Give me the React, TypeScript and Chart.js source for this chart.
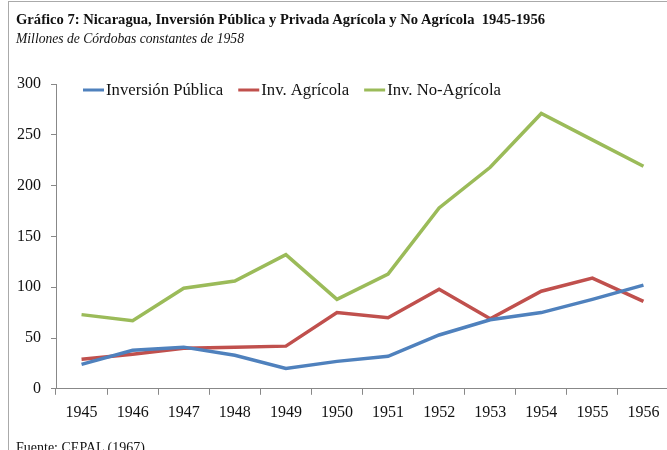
import React, { useEffect, useRef } from "react";
import { Chart, registerables } from "chart.js";

Chart.register(...registerables);

const years = ["1945", "1946", "1947", "1948", "1949", "1950", "1951", "1952", "1953", "1954", "1955", "1956"];
const inversionPublica = [24, 38, 41, 33, 20, 27, 32, 53, 68, 75, 88, 102];
const invAgricola = [29, 34, 40, 41, 42, 75, 70, 98, 69, 96, 109, 86];
const invNoAgricola = [73, 67, 99, 106, 132, 88, 113, 178, 218, 271, 245, 219];
const yTicks = [0, 50, 100, 150, 200, 250, 300];

const FONT = "'Liberation Serif', 'Times New Roman', serif";

const legendPlugin = {
  id: "lineLegend",
  afterDraw(chart: any) {
    const ctx = chart.ctx;
    const area = chart.chartArea;
    let x = area.left + 27;
    const y = area.top + 6;
    ctx.save();
    ctx.font = `16.7px ${FONT}`;
    ctx.textBaseline = "middle";
    chart.data.datasets.forEach((ds: any) => {
      ctx.strokeStyle = ds.borderColor;
      ctx.lineWidth = 3;
      ctx.beginPath();
      ctx.moveTo(x, y);
      ctx.lineTo(x + 21, y);
      ctx.stroke();
      x += 23;
      ctx.fillStyle = "#111";
      ctx.fillText(ds.label, x, y + 1);
      x += ctx.measureText(ds.label).width + 15;
    });
    ctx.restore();
  },
};

export default function App() {
  const ref = useRef<HTMLCanvasElement>(null);
  useEffect(() => {
    if (!ref.current) return;
    const chart = new Chart(ref.current, {
      type: "line",
      data: {
        labels: years,
        datasets: [
          { label: "Inversión Pública", data: inversionPublica, borderColor: "#4F81BD", backgroundColor: "#4F81BD" },
          { label: "Inv. Agrícola", data: invAgricola, borderColor: "#C0504D", backgroundColor: "#C0504D" },
          { label: "Inv. No-Agrícola", data: invNoAgricola, borderColor: "#9BBB59", backgroundColor: "#9BBB59" },
        ].map((d) => ({ ...d, borderWidth: 3.5, pointRadius: 0, tension: 0, fill: false })),
      },
      options: {
        responsive: false,
        animation: false,
        layout: { padding: { left: 7, top: 84, right: 0, bottom: 20 } },
        plugins: { legend: { display: false }, tooltip: { enabled: false } },
        scales: {
          x: {
            offset: true,
            grid: { offset: true, drawOnChartArea: false, tickLength: 6, color: "#888" },
            border: { color: "#888" },
            ticks: { font: { family: FONT, size: 16 }, color: "#111", padding: 8, maxRotation: 0 },
          },
          y: {
            min: 0,
            max: 300,
            afterBuildTicks: (axis: any) => {
              axis.ticks = yTicks.map((v) => ({ value: v }));
            },
            grid: { drawOnChartArea: false, tickLength: 5, color: "#888" },
            border: { color: "#888" },
            ticks: { font: { family: FONT, size: 16 }, color: "#111", padding: 10 },
          },
        },
      },
      plugins: [legendPlugin],
    });
    return () => chart.destroy();
  }, []);

  return (
    <div style={{ position: "absolute", left: 0, top: 0, width: 667, height: 450, overflow: "hidden", background: "#fff" }}>
      <div style={{ position: "absolute", left: 8, top: 1, width: 700, height: 500, borderLeft: "1px solid #aaa", borderTop: "1px solid #aaa" }} />
      <canvas ref={ref} width={669} height={450} style={{ position: "absolute", left: 0, top: 0 }} />
      <div style={{ position: "absolute", left: 16, top: 11, fontFamily: FONT, fontWeight: "bold", fontSize: 14.6, color: "#111", whiteSpace: "pre" }}>
        {"Gráfico 7: Nicaragua, Inversión Pública y Privada Agrícola y No Agrícola  1945-1956"}
      </div>
      <div style={{ position: "absolute", left: 16, top: 31, fontFamily: FONT, fontStyle: "italic", fontSize: 13.6, color: "#111", whiteSpace: "pre" }}>
        {"Millones de Córdobas constantes de 1958"}
      </div>
      <div style={{ position: "absolute", left: 16, top: 440, fontFamily: FONT, fontSize: 14, color: "#111", whiteSpace: "pre" }}>
        {"Fuente: CEPAL (1967)"}
      </div>
    </div>
  );
}
